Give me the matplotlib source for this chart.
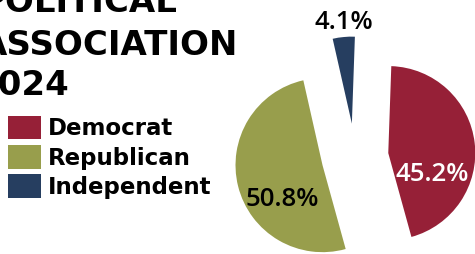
import matplotlib.pyplot as plt

# --- data ---
parties = ["Democrat", "Republican", "Independent"]
shares = [45.2, 50.8, 4.1]
colors = ["#962037", "#989E4C", "#263E60"]
pct_labels = ["45.2%", "50.8%", "4.1%"]
label_colors = ["white", "black", "black"]
title_lines = ["POLITICAL", "ASSOCIATION", "2024"]

W, H = 475, 254
fig = plt.figure(figsize=(W / 100, H / 100), dpi=100)
ax = fig.add_axes([0, 0, 1, 1])

R = 87
wedges, _ = ax.pie(shares, colors=colors, startangle=88, counterclock=False,
                   radius=R, center=(355, 97), explode=[0.385 * R] * 3,
                   wedgeprops=dict(linewidth=0))
ax.set_xlim(0, W)
ax.set_ylim(0, H)
ax.set_aspect("equal")
ax.axis("off")

# label offsets from each exploded wedge's centre (pixels)
offsets = [(44, -21), (-40, -34), (-8, 101)]
for w, txt, c, (dx, dy) in zip(wedges, pct_labels, label_colors, offsets):
    cx, cy = w.center
    ax.text(cx + dx, cy + dy, txt, color=c, ha="center", va="center",
            fontsize=18.5, family="Open Sans", fontweight="semibold")

# title, cropped at the top-left edge like the original
# (right edges / baselines in pixels from the top-left corner)
title_pos = [(178, 12), (238, 55), (69, 95)]
for line, (x, y) in zip(title_lines, title_pos):
    fig.text(x / W, 1 - y / H, line, ha="right", va="baseline",
             fontsize=24.5, fontweight="bold", family="DejaVu Sans")

leg = fig.legend(wedges, parties, loc="upper left", bbox_to_anchor=(8 / W, 1 - 116 / H),
                 frameon=False, borderpad=0, borderaxespad=0,
                 handlelength=1.45, handleheight=1.2, handletextpad=0.3,
                 labelspacing=0.2, prop=dict(family="DejaVu Sans", weight="bold", size=16.5))

fig.savefig("out.png", dpi=100)
